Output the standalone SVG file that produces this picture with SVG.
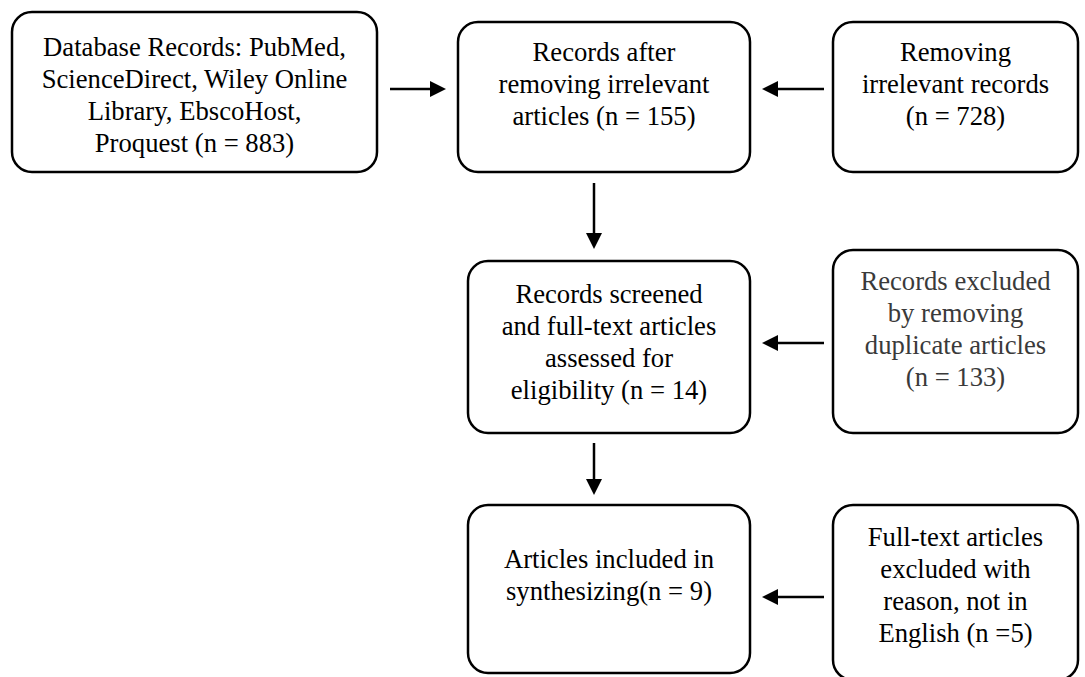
<svg xmlns="http://www.w3.org/2000/svg" width="1085" height="677" viewBox="0 0 1085 677">
  <style>
    .box { fill: #ffffff; stroke: #000000; stroke-width: 2.5; }
    .lbl { font-family: "Liberation Serif", "Times New Roman", serif; font-size: 26.67px; fill: #000000; text-anchor: middle; }
    .grey { fill: #3a3a3a; }
    .conn { stroke: #000000; stroke-width: 2.5; fill: none; }
  </style>
  <defs>
    <marker id="head" markerUnits="userSpaceOnUse" markerWidth="16" markerHeight="16" refX="1" refY="8" orient="auto">
      <path d="M0,0 L16,8 L0,16 Z" fill="#000000"/>
    </marker>
  </defs>
  <rect width="1085" height="677" fill="#ffffff"/>

  <g id="n1">
    <rect class="box" x="12" y="12" width="365" height="160" rx="20"/>
    <text class="lbl" x="194.5" y="55.5">Database Records: PubMed,</text>
    <text class="lbl" x="194.5" y="87.5">ScienceDirect, Wiley Online</text>
    <text class="lbl" x="194.5" y="119.5">Library, EbscoHost,</text>
    <text class="lbl" x="194.5" y="151.5">Proquest (n = 883)</text>
  </g>
  <g id="n2">
    <rect class="box" x="458" y="22" width="292" height="150" rx="20"/>
    <text class="lbl" x="604" y="61">Records after</text>
    <text class="lbl" x="604" y="93">removing irrelevant</text>
    <text class="lbl" x="604" y="125">articles (n = 155)</text>
  </g>
  <g id="n3">
    <rect class="box" x="833" y="22" width="245" height="150" rx="20"/>
    <text class="lbl" x="955.5" y="61">Removing</text>
    <text class="lbl" x="955.5" y="93">irrelevant records</text>
    <text class="lbl" x="955.5" y="125">(n = 728)</text>
  </g>
  <g id="n4">
    <rect class="box" x="468" y="261" width="282" height="172" rx="20"/>
    <text class="lbl" x="609" y="302.5">Records screened</text>
    <text class="lbl" x="609" y="334.5">and full-text articles</text>
    <text class="lbl" x="609" y="366.5">assessed for</text>
    <text class="lbl" x="609" y="398.5">eligibility (n = 14)</text>
  </g>
  <g id="n5">
    <rect class="box" x="833" y="250" width="245" height="183" rx="20"/>
    <text class="lbl grey" x="955.5" y="290">Records excluded</text>
    <text class="lbl grey" x="955.5" y="322">by removing</text>
    <text class="lbl grey" x="955.5" y="354">duplicate articles</text>
    <text class="lbl grey" x="955.5" y="386">(n = 133)</text>
  </g>
  <g id="n6">
    <rect class="box" x="468" y="505" width="282" height="168" rx="20"/>
    <text class="lbl" x="609" y="567.5">Articles included in</text>
    <text class="lbl" x="609" y="599.5">synthesizing(n = 9)</text>
  </g>
  <g id="n7">
    <rect class="box" x="833" y="505" width="245" height="175" rx="20"/>
    <text class="lbl" x="955.5" y="545.5">Full-text articles</text>
    <text class="lbl" x="955.5" y="577.5">excluded with</text>
    <text class="lbl" x="955.5" y="609.5">reason, not in</text>
    <text class="lbl" x="955.5" y="641.5">English (n =5)</text>
  </g>

  <g id="connectors">
    <line class="conn" x1="390" y1="89" x2="431" y2="89" marker-end="url(#head)"/>
    <line class="conn" x1="824" y1="89" x2="777" y2="89" marker-end="url(#head)"/>
    <line class="conn" x1="594" y1="183" x2="594" y2="234" marker-end="url(#head)"/>
    <line class="conn" x1="824" y1="343" x2="777" y2="343" marker-end="url(#head)"/>
    <line class="conn" x1="594" y1="443" x2="594" y2="480" marker-end="url(#head)"/>
    <line class="conn" x1="824" y1="597" x2="777" y2="597" marker-end="url(#head)"/>
  </g>
</svg>
